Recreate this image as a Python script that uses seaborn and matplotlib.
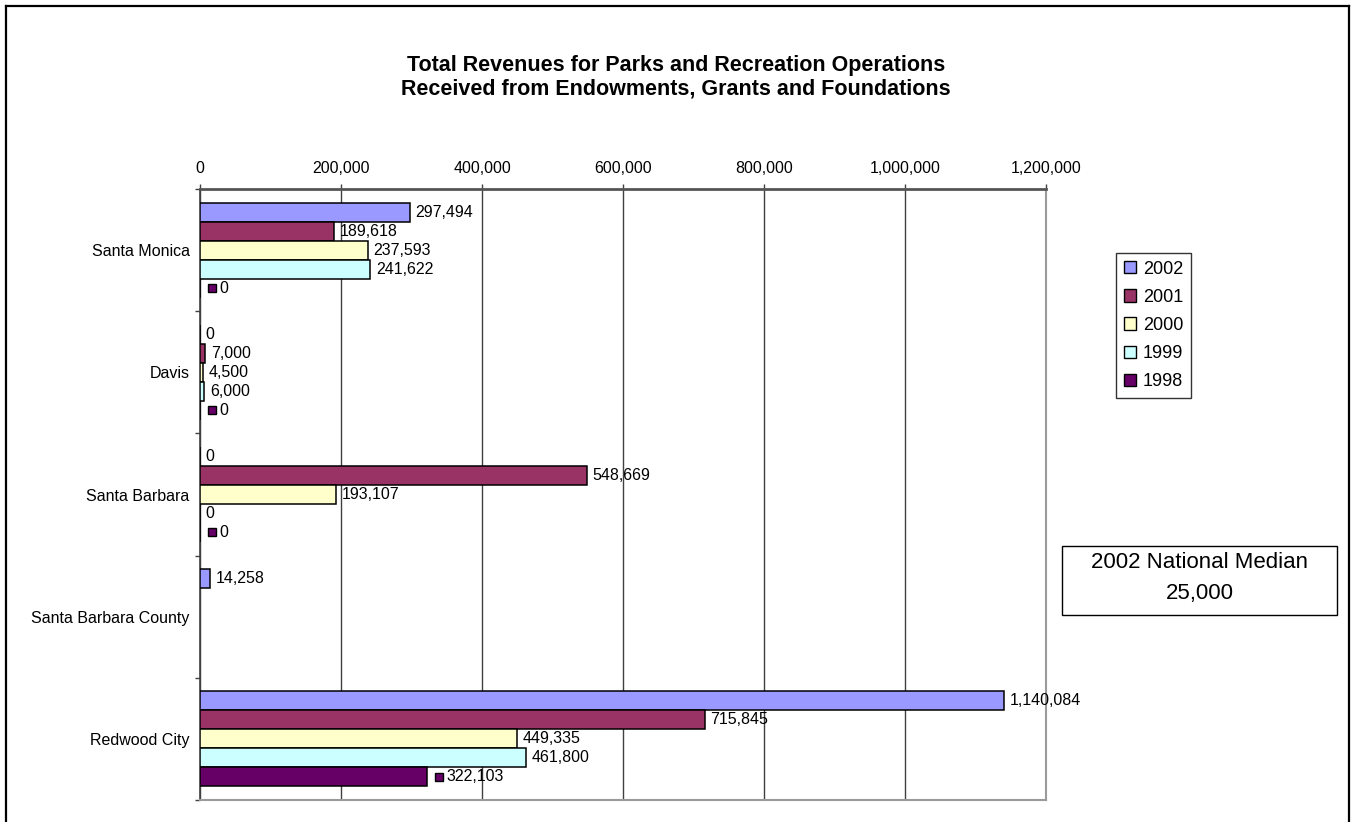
import matplotlib
matplotlib.use("Agg")
import matplotlib.pyplot as plt
import seaborn as sns
import numpy as np
import pandas as pd
from matplotlib.patches import Patch, Rectangle
from matplotlib.lines import Line2D
from matplotlib.ticker import FixedLocator, FuncFormatter
from matplotlib.transforms import offset_copy

# ---- data -------------------------------------------------------------
cities = ["Santa Monica", "Davis", "Santa Barbara", "Santa Barbara County", "Redwood City"]
years = ["2002", "2001", "2000", "1999", "1998"]
rev_2002 = [297494, 0, 0, 14258, 1140084]
rev_2001 = [189618, 7000, 548669, np.nan, 715845]
rev_2000 = [237593, 4500, 193107, np.nan, 449335]
rev_1999 = [241622, 6000, 0, np.nan, 461800]
rev_1998 = [0, 0, 0, np.nan, 322103]
series = [rev_2002, rev_2001, rev_2000, rev_1999, rev_1998]
year_colors = ["#9999FF", "#993366", "#FFFFCC", "#CCFFFF", "#660066"]
x_ticks = [0, 200000, 400000, 600000, 800000, 1000000, 1200000]
median_label = "2002 National Median"
median_value = 25000

df = pd.DataFrame({
    "city": cities * len(years),
    "year": np.repeat(years, len(cities)),
    "revenue": np.concatenate([np.asarray(s, dtype=float) for s in series]),
}).dropna()

# ---- style ------------------------------------------------------------
sns.set_style("white")
plt.rcParams["font.family"] = ["Liberation Sans", "DejaVu Sans"]
plt.rcParams["text.color"] = "black"
plt.rcParams["xtick.color"] = "black"
plt.rcParams["ytick.color"] = "black"
plt.rcParams["axes.labelcolor"] = "black"

W, H = 1351, 822
fig = plt.figure(figsize=(W / 100, H / 100), dpi=100)
ax = fig.add_axes([200 / W, 22 / H, 846 / W, 611 / H])

group_w = 0.777
sns.barplot(
    data=df, y="city", x="revenue", hue="year",
    order=cities, hue_order=years, palette=year_colors,
    orient="h", width=group_w, edgecolor="black", linewidth=1.1,
    saturation=1, errorbar=None, legend=False, ax=ax, zorder=3,
)

ax.set_xlim(0, 1200000)
ax.set_ylim(len(cities) - 0.5, -0.5)
ax.set_xlabel("")
ax.set_ylabel("")

# value axis on top
ax.xaxis.tick_top()
ax.xaxis.set_major_locator(FixedLocator(x_ticks))
ax.xaxis.set_major_formatter(FuncFormatter(lambda v, p: f"{v:,.0f}"))
ax.tick_params(axis="x", which="major", direction="out", length=3.6, width=1,
               color="#404040", labelcolor="black", pad=5.5, labelsize=11.5,
               top=True, bottom=False)
ax.grid(axis="x", color="#404040", linewidth=1.0, zorder=0)
ax.grid(axis="y", visible=False)
ax.set_axisbelow(True)

# category axis: labels centred, ticks between groups
ax.yaxis.set_major_locator(FixedLocator(range(len(cities))))
ax.set_yticklabels(cities)
ax.yaxis.set_minor_locator(FixedLocator(np.arange(-0.5, len(cities), 1.0)))
ax.tick_params(axis="y", which="major", length=0, pad=7.5, labelsize=11.5,
               labelcolor="black")
ax.tick_params(axis="y", which="minor", direction="out", length=3.6, width=1,
               color="#404040", left=True)

ax.spines["top"].set_color("#555555")
ax.spines["top"].set_linewidth(2.0)
ax.spines["left"].set_color("#404040")
ax.spines["left"].set_linewidth(1.2)
for side in ("right", "bottom"):
    ax.spines[side].set_color("#9a9a9a")
    ax.spines[side].set_linewidth(1.5)

# ---- data labels ------------------------------------------------------
bar_h = group_w / len(years)
key_tr = offset_copy(ax.transData, fig=fig, x=8.3, y=0, units="points")
for j, (yr, vals) in enumerate(zip(years, series)):
    for i, v in enumerate(vals):
        if np.isnan(v):
            continue
        yc = i + (j - (len(years) - 1) / 2) * bar_h
        dx = 4.2
        if yr == "1998":
            ax.plot([v], [yc], marker="s", ms=6.3, mfc=year_colors[j], mec="black",
                    mew=1.0, transform=key_tr, clip_on=False, zorder=5)
            dx = 14.3
        ax.annotate(f"{v:,.0f}", xy=(v, yc), xytext=(dx, 0), textcoords="offset points",
                    ha="left", va="center", fontsize=11.5, color="black", zorder=6)

# ---- title ------------------------------------------------------------
fig.text(676 / W, 1 - 77 / H,
         "Total Revenues for Parks and Recreation Operations\n"
         "Received from Endowments, Grants and Foundations",
         ha="center", va="center", fontsize=15.5, fontweight="bold",
         linespacing=1.18, color="black")

# ---- legend -----------------------------------------------------------
handles = [Patch(facecolor=c, edgecolor="black", linewidth=1.0) for c in year_colors]
leg = fig.legend(handles, years, loc="upper left",
                 bbox_to_anchor=(1116 / W, 1 - 253 / H), frameon=True, fancybox=False,
                 edgecolor="black", fontsize=13, handlelength=0.67, handleheight=0.67,
                 handletextpad=0.4, labelspacing=0.62, borderpad=0.42, borderaxespad=0)
leg.get_frame().set_linewidth(1.0)

# ---- national median box ----------------------------------------------
fig.patches.append(Rectangle((1062 / W, 1 - 615 / H), 275 / W, 69 / H,
                             transform=fig.transFigure, facecolor="white",
                             edgecolor="black", linewidth=1.0))
fig.text(1199.5 / W, 1 - 563 / H, median_label, ha="center", va="center",
         fontsize=16, color="black")
fig.text(1199.5 / W, 1 - 593 / H, f"{median_value:,}", ha="center", va="center",
         fontsize=16, color="black")

# ---- outer frame --------------------------------------------------------
for xs, ys in [((6 / W, 6 / W), (0, 1 - 6 / H)),
               ((6 / W, 1349 / W), (1 - 6 / H, 1 - 6 / H)),
               ((1349 / W, 1349 / W), (1 - 6 / H, 0))]:
    fig.add_artist(Line2D(xs, ys, transform=fig.transFigure, color="black",
                          linewidth=1.6, solid_capstyle="projecting"))

fig.savefig("out.png", dpi=100)
